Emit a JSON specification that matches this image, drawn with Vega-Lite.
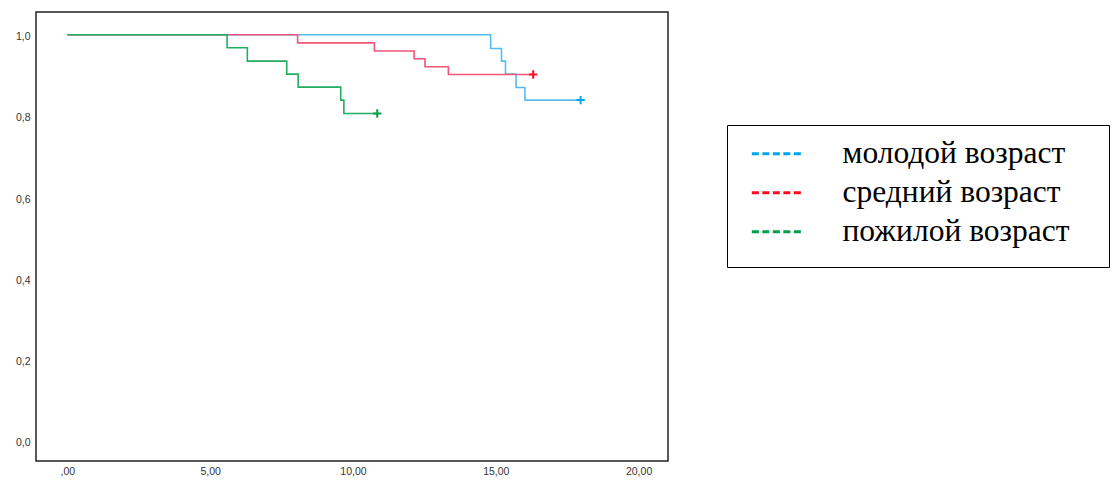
{
  "$schema": "https://vega.github.io/schema/vega-lite/v6.json",
  "width": 632,
  "height": 449,
  "autosize": {"type": "none"},
  "padding": {"left": 36, "top": 12, "right": 444, "bottom": 20},
  "background": "white",
  "config": {
    "view": {"stroke": "#222222", "strokeWidth": 1.5},
    "axis": {"labelFont": "Liberation Sans", "labelFontSize": 10.5, "labelColor": "#333333", "ticks": false, "domain": false, "grid": false, "title": null}
  },
  "data": {
    "values": [
      {"group": "молодой возраст", "t": 0, "s": 1.0, "censored": false},
      {"group": "молодой возраст", "t": 14.82, "s": 0.966, "censored": false},
      {"group": "молодой возраст", "t": 15.2, "s": 0.935, "censored": false},
      {"group": "молодой возраст", "t": 15.34, "s": 0.903, "censored": false},
      {"group": "молодой возраст", "t": 15.71, "s": 0.870, "censored": false},
      {"group": "молодой возраст", "t": 16.02, "s": 0.839, "censored": false},
      {"group": "молодой возраст", "t": 17.97, "s": 0.839, "censored": true},
      {"group": "средний возраст", "t": 0, "s": 1.0, "censored": false},
      {"group": "средний возраст", "t": 8.06, "s": 0.980, "censored": false},
      {"group": "средний возраст", "t": 10.75, "s": 0.960, "censored": false},
      {"group": "средний возраст", "t": 12.14, "s": 0.941, "censored": false},
      {"group": "средний возраст", "t": 12.52, "s": 0.921, "censored": false},
      {"group": "средний возраст", "t": 13.34, "s": 0.902, "censored": false},
      {"group": "средний возраст", "t": 16.31, "s": 0.902, "censored": true},
      {"group": "пожилой возраст", "t": 0, "s": 1.0, "censored": false},
      {"group": "пожилой возраст", "t": 5.59, "s": 0.968, "censored": false},
      {"group": "пожилой возраст", "t": 6.3, "s": 0.935, "censored": false},
      {"group": "пожилой возраст", "t": 7.68, "s": 0.903, "censored": false},
      {"group": "пожилой возраст", "t": 8.08, "s": 0.871, "censored": false},
      {"group": "пожилой возраст", "t": 9.57, "s": 0.839, "censored": false},
      {"group": "пожилой возраст", "t": 9.68, "s": 0.806, "censored": false},
      {"group": "пожилой возраст", "t": 10.85, "s": 0.806, "censored": true}
    ]
  },
  "layer": [
    {
      "mark": {"type": "line", "interpolate": "step-after", "strokeWidth": 1.6},
      "encoding": {
        "x": {"field": "t", "type": "quantitative", "scale": {"domain": [-1.1, 21.03], "nice": false, "zero": false},
          "axis": {"values": [0, 5, 10, 15, 20], "labelExpr": "datum.value == 0 ? ',00' : replace(format(datum.value, '.2f'), '.', ',')", "labelPadding": 5}},
        "y": {"field": "s", "type": "quantitative", "scale": {"domain": [-0.05, 1.056], "nice": false, "zero": false},
          "axis": {"values": [0, 0.2, 0.4, 0.6, 0.8, 1.0], "labelExpr": "replace(format(datum.value, '.1f'), '.', ',')", "labelPadding": 6, "labelOffset": 2}},
        "color": {"field": "group", "type": "nominal",
          "scale": {"domain": ["молодой возраст", "средний возраст", "пожилой возраст"], "range": ["#55bdf2", "#f0557a", "#22ad62"]},
          "legend": null},
        "order": {"field": "t"}
      }
    },
    {
      "transform": [{"filter": "datum.censored"}],
      "mark": {"type": "point", "shape": "M-1,0H1M0,-1V1", "size": 70, "strokeWidth": 2, "filled": false, "opacity": 1},
      "encoding": {
        "x": {"field": "t", "type": "quantitative"},
        "y": {"field": "s", "type": "quantitative"},
        "color": {"field": "group", "type": "nominal",
          "scale": {"domain": ["молодой возраст", "средний возраст", "пожилой возраст"], "range": ["#00a6ea", "#ff0a20", "#00a048"]},
          "legend": {
            "title": " ", "titleOrient": "bottom", "titleFontSize": 4, "titlePadding": 3,
            "orient": "none", "legendX": 691, "legendY": 113, "padding": 13,
            "strokeColor": "black", "fillColor": "white",
            "symbolType": "M-0.3,0H3.7M25.7,0H25.7", "symbolSize": 676, "symbolStrokeWidth": 3, "symbolDash": [7, 3.5], "symbolFillColor": "transparent",
            "labelFont": "Liberation Serif", "labelFontSize": 31.5, "labelColor": "black", "labelOffset": 71, "labelLimit": 800, "rowPadding": 6,
            "encode": {
              "legend": {"update": {"strokeWidth": {"value": 2}}}
            }
          }
        }
      }
    }
  ],
  "resolve": {"scale": {"color": "independent"}}
}
